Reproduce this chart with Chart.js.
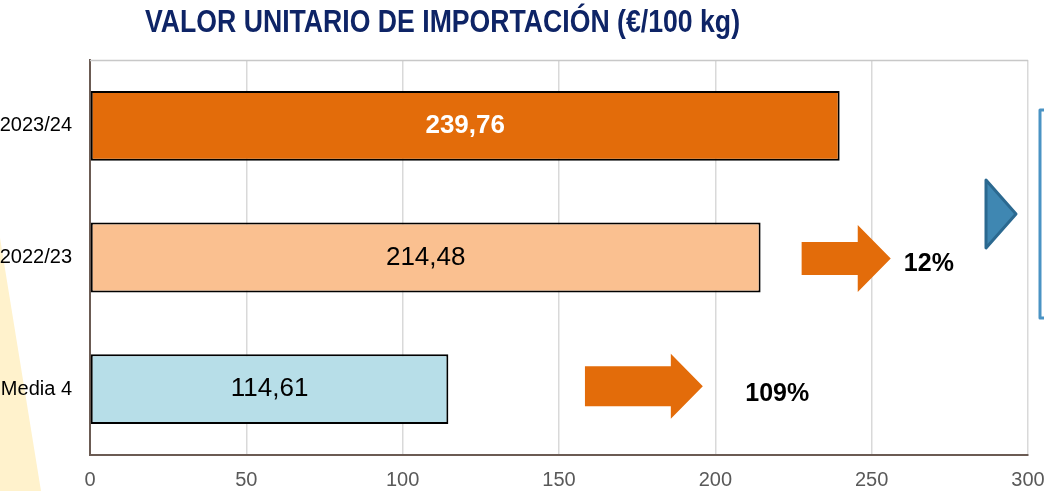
<!DOCTYPE html>
<html>
<head>
<meta charset="utf-8">
<script src="https://cdn.jsdelivr.net/npm/chart.js@4/dist/chart.umd.min.js"></script>
<style>
  html, body { margin: 0; padding: 0; background: #fff; }
  #wrap { width: 1044px; height: 491px; position: relative; }
</style>
</head>
<body>
<div id="wrap"><canvas id="grafico"></canvas></div>
<script>
const titulo = 'VALOR UNITARIO DE IMPORTACIÓN (€/100 kg)';
const categorias = ['2023/24', '2022/23', 'Media 4'];
const valores = [239.76, 214.48, 114.61];
const coresBarras = ['#E36C0A', '#FAC090', '#B7DEE8'];
const coresRotulos = ['#ffffff', '#000000', '#000000'];
const variacoes = ['12%', '109%'];
const eixoMin = 0;
const eixoMax = 300;
const eixoPasso = 50;

const formatar = v => v.toFixed(2).replace('.', ',');
const fonte = '"Liberation Sans", Arial, sans-serif';

function setaBloco(ctx, x0, x1, yc, hCorpo, hCabeca, larguraCabeca) {
    ctx.beginPath();
    ctx.moveTo(x0, yc - hCorpo / 2);
    ctx.lineTo(x1 - larguraCabeca, yc - hCorpo / 2);
    ctx.lineTo(x1 - larguraCabeca, yc - hCabeca / 2);
    ctx.lineTo(x1, yc);
    ctx.lineTo(x1 - larguraCabeca, yc + hCabeca / 2);
    ctx.lineTo(x1 - larguraCabeca, yc + hCorpo / 2);
    ctx.lineTo(x0, yc + hCorpo / 2);
    ctx.closePath();
    ctx.fill();
}

const decoracoes = {
    id: 'decoracoes',
    beforeDraw(chart) {
        const ctx = chart.ctx;
        ctx.save();
        // faixa amarela no canto esquerdo
        ctx.fillStyle = '#FFF2CC';
        ctx.beginPath();
        ctx.moveTo(0, 238);
        ctx.lineTo(41, 491);
        ctx.lineTo(0, 491);
        ctx.closePath();
        ctx.fill();
        ctx.restore();
    },
    afterDraw(chart) {
        const ctx = chart.ctx;
        const area = chart.chartArea;
        const x = chart.scales.x;
        const meta = chart.getDatasetMeta(0);
        ctx.save();

        // borda superior
        ctx.strokeStyle = '#C8C8C8';
        ctx.lineWidth = 1.5;
        ctx.beginPath();
        ctx.moveTo(area.left, area.top + 0.5);
        ctx.lineTo(area.right, area.top + 0.5);
        ctx.stroke();

        // titulo
        ctx.fillStyle = '#0E2466';
        ctx.font = 'bold 31px ' + fonte;
        ctx.textBaseline = 'middle';
        ctx.textAlign = 'left';
        const larguraAlvo = 595;
        const w = ctx.measureText(titulo).width;
        ctx.save();
        ctx.translate(145, 23);
        ctx.scale(larguraAlvo / w, 1);
        ctx.fillText(titulo, 0, 0);
        ctx.restore();

        // rotulos nas barras
        ctx.textAlign = 'center';
        meta.data.forEach((bar, i) => {
            ctx.fillStyle = coresRotulos[i];
            ctx.font = (i === 0 ? 'bold ' : '') + '26px ' + fonte;
            ctx.fillText(formatar(valores[i]), (bar.x + bar.base) / 2, bar.y);
        });

        // setas laranja e variacoes
        ctx.fillStyle = '#E36C0A';
        const y2 = meta.data[1].y;
        const y3 = meta.data[2].y;
        setaBloco(ctx, x.getPixelForValue(227.6), x.getPixelForValue(256.1), y2 + 1, 33, 67, 33);
        setaBloco(ctx, x.getPixelForValue(158.3), x.getPixelForValue(196), y3 - 3, 40, 65, 32);

        ctx.fillStyle = '#000';
        ctx.font = 'bold 25px ' + fonte;
        ctx.fillText(variacoes[0], x.getPixelForValue(268.3), y2 + 7);
        ctx.fillText(variacoes[1], x.getPixelForValue(219.8), y3 + 5);

        // triangulo azul
        ctx.fillStyle = '#3F87B2';
        ctx.strokeStyle = '#2B6990';
        ctx.lineWidth = 3;
        ctx.lineJoin = 'round';
        ctx.beginPath();
        ctx.moveTo(986, 180);
        ctx.lineTo(1016, 214);
        ctx.lineTo(986, 248);
        ctx.closePath();
        ctx.fill();
        ctx.stroke();

        // caixa azul a direita
        ctx.strokeStyle = '#4A93C4';
        ctx.lineWidth = 3;
        ctx.beginPath();
        ctx.moveTo(1060, 110);
        ctx.lineTo(1040, 110);
        ctx.lineTo(1040, 318);
        ctx.lineTo(1060, 318);
        ctx.stroke();

        ctx.restore();
    }
};

new Chart(document.getElementById('grafico'), {
    type: 'bar',
    data: {
        labels: categorias,
        datasets: [{
            data: valores,
            backgroundColor: coresBarras,
            borderColor: '#000',
            borderWidth: 2,
            borderSkipped: false,
            categoryPercentage: 1,
            barPercentage: 0.53
        }]
    },
    options: {
        indexAxis: 'y',
        responsive: true,
        maintainAspectRatio: false,
        animation: false,
        layout: { padding: { top: 60, right: 16, bottom: 0, left: 0 } },
        plugins: {
            legend: { display: false },
            tooltip: { enabled: false }
        },
        scales: {
            x: {
                min: eixoMin,
                max: eixoMax,
                ticks: {
                    stepSize: eixoPasso,
                    color: '#595959',
                    font: { family: fonte, size: 20 },
                    padding: 13
                },
                grid: { color: '#D9D9D9', lineWidth: 1.5, drawTicks: false },
                border: { color: '#6B5B53', width: 2 },
                afterFit(scale) {
                    scale.height = 36;
                    scale.paddingLeft = 0;
                    scale.paddingRight = 0;
                }
            },
            y: {
                ticks: {
                    color: '#000',
                    font: { family: fonte, size: 20 },
                    padding: 18
                },
                grid: { display: false, drawTicks: false },
                border: { color: '#6B5B53', width: 2 },
                afterFit(scale) {
                    scale.width = 90;
                    scale.paddingTop = 0;
                    scale.paddingBottom = 0;
                }
            }
        }
    },
    plugins: [decoracoes]
});
</script>
</body>
</html>
